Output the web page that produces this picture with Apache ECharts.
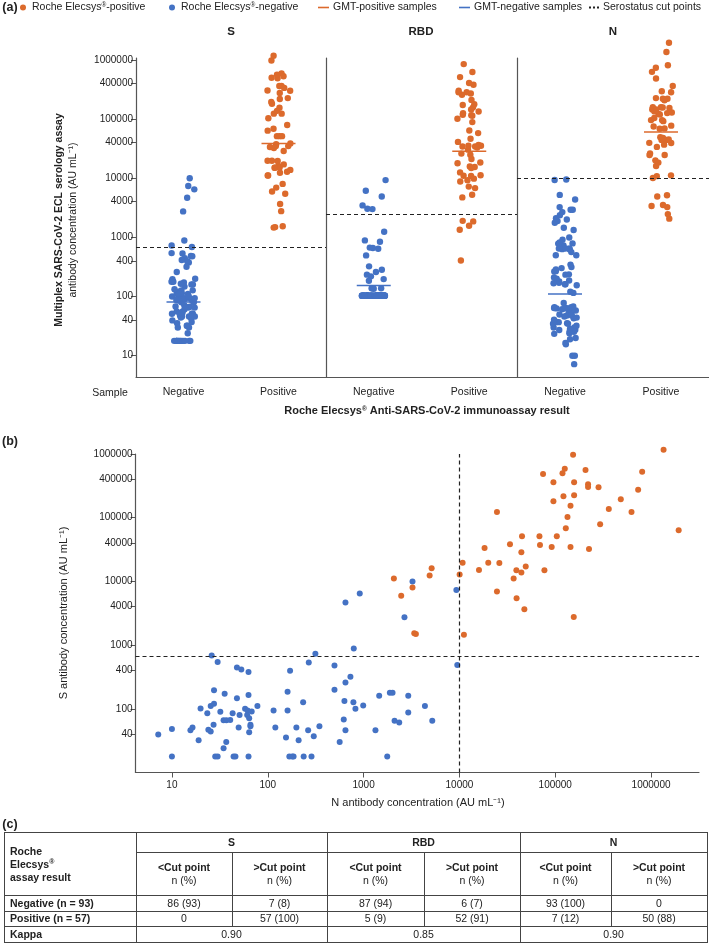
<!DOCTYPE html>
<html>
<head>
<meta charset="utf-8">
<script src="https://cdn.jsdelivr.net/npm/echarts@6/dist/echarts.min.js"></script>
<style>
  body { margin:0; background:#fff; }
  #main { position:absolute; left:0; top:0; width:709px; height:944px; }
  #tbl { position:absolute; left:4px; top:832px; width:703px; border-collapse:collapse; table-layout:fixed;
         font-family:'Liberation Sans', Arial, sans-serif; font-size:10.5px; color:#222; }
  #tbl td, #tbl th { border:1px solid #444; padding:0; text-align:center; vertical-align:middle; line-height:13px; }
  #tbl th { font-weight:bold; }
  #tbl .lab { text-align:left; padding-left:5px; }
  #tbl sup { font-size:7px; line-height:0; }
</style>
</head>
<body>
<div id="main"></div>
<table id="tbl"></table>
<script>
// ---- data (AU/mL) ----
// panel (b) pairs, kept as separate arrays: N and S value of each sample (same index)
var negN = [7.2,10,10,15.6,16.4,19,19.9,23.4,24,25.4,25.4,27.5,27.5,27.2,26,30,28.3,30,32,34.6,37,35.5,36.9,34.6,40.6,43,44,47.7,47.7,53,49.7,50.8,58,63,63,61.6,61,64,68,66,66,64,63,78,115,120,161,161,171,155,168,180,186,199,210,234,237,264,268,286,302,314,346,497,497,
  647,912,790,729,647,631,783,822,991,621,647,563,1330,1455,1880,2005,1765,2105,2355,2925,2925,4365,5210,2670,3240,9290,9500,46];
var negS = [39.5,48,17.8,46,51,32,101,85.5,47,44,111,120,196,56,686,541,17.8,17.8,90,66,66,172,30,24,67,85,17.8,147,445,414,51,80,100,377,164,94,80,71,91,56,53,43,17.8,111,94,51,185,94,395,35.5,17.8,17.8,17.8,51,32,127,17.8,46,533,17.8,37,729,53,478,199,
  4650,6460,884,318,259,133,127,100,113,68,46,30,46,160,178,178,17.8,65,61,160,87.5,111,65,2740,9930,7360,485,17.8];
var posN = [2070,2470,3240,3380,3515,4890,5130,10050,10800,11140,16000,
  18300,20000,24650,26100,24650,33700,36800,39300,39500,44300,44300,45000,49200,47600,68400,69300,77100,74600,91800,95700,95700,103800,119000,125700,121800,128800,134200,144300,153500,157300,157300,144300,156000,207000,220000,220000,225000,283000,294000,362000,483000,625000,733000,807000,1350000,1940000];
var posS = [11070,5930,8000,1540,1490,12330,16100,12790,19700,1460,15140,
  33500,19700,123000,19500,6920,38400,11070,14970,5450,13770,28700,51200,17060,3660,51200,37400,14970,485000,34800,360000,181000,51200,498000,588000,217000,68200,103000,154500,975000,360000,225000,34800,2770,561000,335000,303000,32400,300000,78900,137000,194000,123000,275000,527000,1170000,63500];
// RBD values (panel a only)
var negRBD = [9270,6120,4910,3460,3040,3000,1245,843,887,641,659,670,495,284,323,259,234,197,219,185,138,138,138,135]
  .concat(new Array(69).fill(103));
var posRBD = [845000,620000,510000,378000,404000,283000,270000,283000,256000,178000,172000,157000,134000,118000,100700,113000,116000,88500,57700,46300,
  35200,36500,35200,34300,34300,30300,24800,18400,17900,15800,15400,14800,11000,11200,10900,8800,9200,7200,6790,5250,4730,1860,1570,1340,407,
  1900,300000,210000,145000,125000,64000,41000,33000,26000,21000,12500,9800];

var panels = ['S', 'RBD', 'N'];
var sampleCats = ['Negative', 'Positive'];
var cutPoints = [680, 2440, 10000];
var gmtNeg = [81, 154, 110];
var gmtPos = [38500, 28600, 60100];
var ticksA = [10, 40, 100, 400, 1000, 4000, 10000, 40000, 100000, 400000, 1000000];
var ticksBy = [40, 100, 400, 1000, 4000, 10000, 40000, 100000, 400000, 1000000];
var ticksBx = [10, 100, 1000, 10000, 100000, 1000000];

var tableHead = ['S', 'RBD', 'N'];
var tableRows = [
  ['Negative (n = 93)', '86 (93)', '7 (8)', '87 (94)', '6 (7)', '93 (100)', '0'],
  ['Positive (n = 57)', '0', '57 (100)', '5 (9)', '52 (91)', '7 (12)', '50 (88)']
];
var kappa = ['0.90', '0.85', '0.90'];

// ---- styles ----
var FONT = "'Liberation Sans', Arial, sans-serif";
var BLUE = '#4472C4', ORANGE = '#DC6A2C', INK = '#222', AXIS = '#555';
var lg = Math.log10;
function fmt(v) { return String(Math.round(Math.pow(10, v))); }
function supR(s) { return s.replace('®', '{r|®}'); }
var cutStyle = { color: INK, type: [4, 3], width: 1.2 };

var panelValues = [[negS, posS], [negRBD, posRBD], [negN, posN]];
var gridA = [{ left: 136, width: 190 }, { left: 326, width: 191 }, { left: 517, width: 192 }];

var grids = [], xAxes = [], yAxes = [];
var series = [
  // legend only
  { type: 'line', name: 'GMT-positive samples', data: [], xAxisIndex: 3, yAxisIndex: 3, symbol: 'none', color: ORANGE },
  { type: 'line', name: 'GMT-negative samples', data: [], xAxisIndex: 3, yAxisIndex: 3, symbol: 'none', color: BLUE },
  { type: 'line', name: 'Serostatus cut points', data: [], xAxisIndex: 3, yAxisIndex: 3, symbol: 'none', color: INK }
];

function gmtItem(color) {
  return function (params, api) {
    var p = api.coord([api.value(0), api.value(1)]);
    return { type: 'line', shape: { x1: p[0] - 17, y1: p[1], x2: p[0] + 17, y2: p[1] },
             style: { stroke: color, lineWidth: 1.5 } };
  };
}

panels.forEach(function (p, i) {
  grids.push({ left: gridA[i].left, width: gridA[i].width, top: 58, height: 319, outerBoundsMode: 'none' });
  xAxes.push({
    gridIndex: i, type: 'category', data: sampleCats, jitter: 24, jitterOverlap: true,
    axisLine: { lineStyle: { color: AXIS, width: 1.2 } },
    axisTick: { alignWithLabel: true, length: 4, lineStyle: { color: AXIS } },
    axisLabel: { fontSize: 10.5, color: INK, margin: 10, fontFamily: FONT }
  });
  yAxes.push({
    gridIndex: i, type: 'value', min: 0.64, max: 6.03,
    axisLine: { show: true, onZero: false, lineStyle: { color: AXIS, width: 1.2 } },
    axisTick: { show: i === 0, customValues: ticksA.map(lg), length: 5, lineStyle: { color: AXIS } },
    axisLabel: { show: i === 0, customValues: ticksA.map(lg), formatter: fmt, fontSize: 10, color: INK, margin: 3, fontFamily: FONT },
    splitLine: { show: false }
  });
  series.push({
    type: 'scatter', name: 'Roche Elecsys®-negative', xAxisIndex: i, yAxisIndex: i, clip: false,
    symbolSize: 6.4, itemStyle: { color: BLUE, opacity: 1 },
    data: panelValues[i][0].map(function (v) { return ['Negative', lg(v)]; }),
    markLine: { silent: true, symbol: 'none', label: { show: false }, lineStyle: cutStyle, data: [{ yAxis: lg(cutPoints[i]) }] }
  });
  series.push({
    type: 'scatter', name: 'Roche Elecsys®-positive', xAxisIndex: i, yAxisIndex: i, clip: false,
    symbolSize: 6.4, itemStyle: { color: ORANGE, opacity: 1 },
    data: panelValues[i][1].map(function (v) { return ['Positive', lg(v)]; })
  });
  series.push({ type: 'custom', name: 'GMT-negative samples', xAxisIndex: i, yAxisIndex: i, z: 5,
    data: [['Negative', lg(gmtNeg[i])]], renderItem: gmtItem(BLUE) });
  series.push({ type: 'custom', name: 'GMT-positive samples', xAxisIndex: i, yAxisIndex: i, z: 5,
    data: [['Positive', lg(gmtPos[i])]], renderItem: gmtItem(ORANGE) });
});

// panel (b)
grids.push({ left: 135.5, width: 563.5, top: 454, height: 318.5, outerBoundsMode: 'none' });
xAxes.push({
  gridIndex: 3, type: 'value', min: 0.62, max: 6.5,
  axisLine: { onZero: false, lineStyle: { color: AXIS, width: 1.2 } },
  axisTick: { customValues: ticksBx.map(lg), length: 5, lineStyle: { color: AXIS } },
  axisLabel: { customValues: ticksBx.map(lg), formatter: fmt, fontSize: 10, color: INK, margin: 8, fontFamily: FONT },
  splitLine: { show: false }
});
yAxes.push({
  gridIndex: 3, type: 'value', min: 1, max: 6,
  axisLine: { show: true, onZero: false, lineStyle: { color: AXIS, width: 1.2 } },
  axisTick: { customValues: ticksBy.map(lg), length: 5, lineStyle: { color: AXIS } },
  axisLabel: { customValues: ticksBy.map(lg), formatter: fmt, fontSize: 10, color: INK, margin: 3, fontFamily: FONT },
  splitLine: { show: false }
});
series.push({
  type: 'scatter', name: 'Roche Elecsys®-negative', xAxisIndex: 3, yAxisIndex: 3, clip: false,
  symbolSize: 6, itemStyle: { color: BLUE, opacity: 1 },
  data: negN.map(function (n, k) { return [lg(n), lg(negS[k])]; }),
  markLine: { silent: true, symbol: 'none', label: { show: false }, lineStyle: cutStyle,
    data: [{ xAxis: lg(cutPoints[2]) }, { yAxis: lg(cutPoints[0]) }] }
});
series.push({
  type: 'scatter', name: 'Roche Elecsys®-positive', xAxisIndex: 3, yAxisIndex: 3, clip: false,
  symbolSize: 6, itemStyle: { color: ORANGE, opacity: 1 },
  data: posN.map(function (n, k) { return [lg(n), lg(posS[k])]; })
});

var supRich = { r: { fontSize: 6.5, verticalAlign: 'top', lineHeight: 8 } };
function legendAt(left, name, icon, w, h) {
  return { left: left, top: 2, padding: 0, itemWidth: w, itemHeight: h, itemGap: 0, selectedMode: false,
    formatter: supR,
    textStyle: { fontSize: 10.5, color: INK, fontFamily: FONT, padding: [0, 0, 0, -1], rich: supRich },
    data: [{ name: name, icon: icon }] };
}

function txt(x, y, text, font, extra) {
  var o = { type: 'text', x: x, y: y, silent: true,
    style: { text: text, font: font, fill: INK, textAlign: 'center', textVerticalAlign: 'middle' } };
  if (extra) for (var k in extra) o[k] = extra[k];
  return o;
}
var F = function (size, bold) { return (bold ? 'bold ' : '') + size + 'px ' + FONT; };

var title = txt(427, 411, supR('Roche Elecsys® Anti-SARS-CoV-2 immunoassay result'), F(11, true));
title.style.rich = { r: { font: F(6.5, true), verticalAlign: 'top', lineHeight: 8 } };

var graphic = [
  txt(10, 8, '(a)', F(12.5, true)),
  txt(10, 442, '(b)', F(12.5, true)),
  txt(10, 825, '(c)', F(12.5, true)),
  txt(231, 32, panels[0], F(11.5, true)),
  txt(421, 32, panels[1], F(11.5, true)),
  txt(613, 32, panels[2], F(11.5, true)),
  txt(110, 393, 'Sample', F(10.5)),
  title,
  txt(59, 220, 'Multiplex SARS-CoV-2 ECL serology assay', F(10.5, true), { rotation: Math.PI / 2 }),
  txt(73, 220, 'antibody concentration (AU mL⁻¹)', F(10.5), { rotation: Math.PI / 2 }),
  txt(64, 613, 'S antibody concentration (AU mL⁻¹)', F(11), { rotation: Math.PI / 2 }),
  txt(418, 803, 'N antibody concentration (AU mL⁻¹)', F(11))
];

var dots = 'path://M0,0h2v2h-2z M4,0h2v2h-2z M8,0h2v2h-2z';

var chart = echarts.init(document.getElementById('main'), null, { renderer: 'canvas' });
chart.setOption({
  backgroundColor: '#fff',
  animation: false,
  textStyle: { fontFamily: FONT },
  legend: [
    legendAt(20, 'Roche Elecsys®-positive', 'circle', 10, 6),
    legendAt(169, 'Roche Elecsys®-negative', 'circle', 10, 6),
    legendAt(318, 'GMT-positive samples', 'rect', 11, 1.6),
    legendAt(459, 'GMT-negative samples', 'rect', 11, 1.6),
    legendAt(589, 'Serostatus cut points', dots, 10, 2)
  ],
  grid: grids,
  xAxis: xAxes,
  yAxis: yAxes,
  graphic: graphic,
  series: series
});

// ---- table (c) ----
var colW = [131.5, 96, 95, 97, 96, 91, 96];
var html = '<colgroup>' + colW.map(function (w) { return '<col style="width:' + w + 'px">'; }).join('') + '</colgroup>';
html += '<tr style="height:20px"><th rowspan="2" class="lab">Roche<br>Elecsys<sup>®</sup><br>assay result</th>' +
  tableHead.map(function (h) { return '<th colspan="2">' + h + '</th>'; }).join('') + '</tr>';
html += '<tr style="height:43px">' + tableHead.map(function () {
  return '<td><b>&lt;Cut point</b><br>n (%)</td><td><b>&gt;Cut point</b><br>n (%)</td>';
}).join('') + '</tr>';
tableRows.forEach(function (r) {
  html += '<tr style="height:15.6px"><th class="lab">' + r[0] + '</th>' +
    r.slice(1).map(function (c) { return '<td>' + c + '</td>'; }).join('') + '</tr>';
});
html += '<tr style="height:16px"><th class="lab">Kappa</th>' +
  kappa.map(function (k) { return '<td colspan="2">' + k + '</td>'; }).join('') + '</tr>';
document.getElementById('tbl').innerHTML = html;
</script>
</body>
</html>
